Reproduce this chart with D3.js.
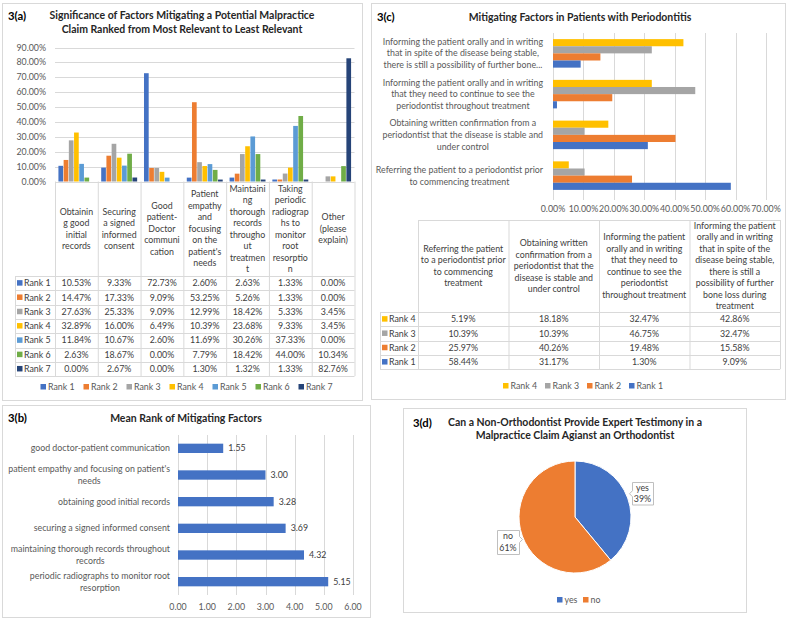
<!DOCTYPE html>
<html><head><meta charset="utf-8">
<script src="https://cdn.jsdelivr.net/npm/d3@7"></script>
<style>
body{margin:0;background:#fff;}
svg{display:block;font-family:Lato,"Open Sans",sans-serif;}
</style></head><body>
<svg id="c" width="791" height="622"></svg>
<script>
// ---------- DATA ----------
// 3(a)
const factorsA = [
  ["Obtainin","g good","initial","records"],
  ["Securing","a signed","informed","consent"],
  ["Good","patient-","Doctor","communi","cation"],
  ["Patient","empathy","and","focusing","on the","patient's","needs"],
  ["Maintaini","ng","thorough","records","througho","ut","treatmen","t"],
  ["Taking","periodic","radiograp","hs to","monitor","root","resorptio","n"],
  ["Other","(please","explain)"]
];
const ranksA = ["Rank 1","Rank 2","Rank 3","Rank 4","Rank 5","Rank 6","Rank 7"];
const rank1A = [10.53, 9.33, 72.73, 2.60, 2.63, 1.33, 0.00];
const rank2A = [14.47, 17.33, 9.09, 53.25, 5.26, 1.33, 0.00];
const rank3A = [27.63, 25.33, 9.09, 12.99, 18.42, 5.33, 3.45];
const rank4A = [32.89, 16.00, 6.49, 10.39, 23.68, 9.33, 3.45];
const rank5A = [11.84, 10.67, 2.60, 11.69, 30.26, 37.33, 0.00];
const rank6A = [2.63, 18.67, 0.00, 7.79, 18.42, 44.00, 10.34];
const rank7A = [0.00, 2.67, 0.00, 1.30, 1.32, 1.33, 82.76];
const ticksA = [0,10,20,30,40,50,60,70,80,90];

// 3(b)
const factorsB = [
  ["good doctor-patient communication"],
  ["patient empathy and focusing on patient's","needs"],
  ["obtaining good initial records"],
  ["securing a signed informed consent"],
  ["maintaining thorough records throughout","records"],
  ["periodic radiographs to monitor root","resorption"]
];
const meanRankB = [1.55, 3.00, 3.28, 3.69, 4.32, 5.15];
const ticksB = [0,1,2,3,4,5,6];

// 3(c)
const factorsC_axis = [
  ["Referring the patient to a periodontist prior","to commencing treatment"],
  ["Obtaining written confirmation from a","periodontist that the disease is stable and","under control"],
  ["Informing the patient orally and in writing","that they need to continue to see the","periodontist throughout treatment"],
  ["Informing the patient orally and in writing","that in spite of the disease being stable,","there is still a possibility of further bone..."]
];
const factorsC_table = [
  ["Referring the patient","to a periodontist prior","to commencing","treatment"],
  ["Obtaining written","confirmation from a","periodontist that the","disease is stable and","under control"],
  ["Informing the patient","orally and in writing","that they need to","continue to see the","periodontist","throughout treatment"],
  ["Informing the patient","orally and in writing","that in spite of the","disease being stable,","there is still a","possibility of further","bone loss during","treatment"]
];
const ranksC = ["Rank 4","Rank 3","Rank 2","Rank 1"];
const rank4C = [5.19, 18.18, 32.47, 42.86];
const rank3C = [10.39, 10.39, 46.75, 32.47];
const rank2C = [25.97, 40.26, 19.48, 15.58];
const rank1C = [58.44, 31.17, 1.30, 9.09];
const ticksC = [0,10,20,30,40,50,60,70];

// 3(d)
const answersD = ["yes","no"];
const sharesD = [39, 61];

// ---------- SETUP ----------
const svg = d3.select("#c");
svg.append("rect").attr("width",791).attr("height",622).attr("fill","#fff");
const GRID = "#d9d9d9", LBL = "#595959", TXT = "#404040", TTL = "#262626";
const colorsA = ["#4472C4","#ED7D31","#A5A5A5","#FFC000","#5B9BD5","#70AD47","#264478"];
const colorRank = {"Rank 1":"#4472C4","Rank 2":"#ED7D31","Rank 3":"#A5A5A5","Rank 4":"#FFC000"};

function fit(sample, target, weight){
  const t = svg.append("text").attr("font-size",100).attr("font-weight",weight).text(sample);
  const w = t.node().getComputedTextLength(); t.remove();
  return 100*target/w;
}
const FS = (fit("good doctor-patient communication",139,"normal") + fit("Informing the patient orally and in writing",161,"normal"))/2;
const TS = fit("Significance of Factors Mitigating a Potential Malpractice",265,"bold");

function panel(x,y,w,h){
  svg.append("rect").attr("x",x+0.5).attr("y",y+0.5).attr("width",w).attr("height",h)
    .attr("fill","#fff").attr("stroke",GRID);
}
function txt(x,y,s,opt={}){
  return svg.append("text").attr("x",x).attr("y",y).text(s)
    .attr("font-size",opt.size||FS).attr("fill",opt.fill||TXT)
    .attr("font-weight",opt.weight||"normal").attr("text-anchor",opt.anchor||"start");
}
function block(lines, cx, cy, lh, opt={}){
  const size = opt.size||FS;
  const t = svg.append("text").attr("font-size",size).attr("fill",opt.fill||TXT)
    .attr("text-anchor","middle").attr("font-weight",opt.weight||"normal");
  lines.forEach((s,i)=>t.append("tspan").attr("x",cx)
    .attr("y",cy+(i-(lines.length-1)/2)*lh+size*0.35).text(s));
  if(opt.right!==undefined){
    const w = d3.max(t.selectAll("tspan").nodes(), n=>n.getComputedTextLength());
    t.selectAll("tspan").attr("x", opt.right - w/2);
  }
  return t;
}
function hline(x1,x2,y,c=GRID){svg.append("line").attr("x1",x1).attr("x2",x2).attr("y1",y).attr("y2",y).attr("stroke",c);}
function vline(x,y1,y2,c=GRID){svg.append("line").attr("x1",x).attr("x2",x).attr("y1",y1).attr("y2",y2).attr("stroke",c);}
function legend(items, colors, x0, step, y){
  items.forEach((s,i)=>{
    svg.append("rect").attr("x",x0+i*step).attr("y",y-3).attr("width",5.5).attr("height",5.5).attr("fill",colors[i]);
    txt(x0+i*step+7.5,y+FS*0.35,s,{fill:LBL});
  });
}

panel(2,3,360,397);
panel(371,3,414,396);
panel(2,405,368,212);
panel(403,408,343,204);

// ---------- 3(a) ----------
{
  const valuesA = [rank1A,rank2A,rank3A,rank4A,rank5A,rank6A,rank7A];
  txt(8,20,"3(a)",{size:TS*1.08,weight:"bold",fill:"#000"});
  block(["Significance of Factors Mitigating a Potential Malpractice","Claim Ranked from Most Relevant to Least Relevant"],182,22.5,14,{size:TS,weight:"bold",fill:TTL});
  const y = d3.scaleLinear().domain([0,90]).range([181.5,47.5]);
  const x0 = d3.scaleBand().domain(d3.range(factorsA.length)).range([55,354.5]).paddingInner(0.16).paddingOuter(0.08);
  const x1 = d3.scaleBand().domain(ranksA).range([0,x0.bandwidth()]).paddingInner(0.1);
  ticksA.forEach(t=>{
    hline(55,354.5,Math.round(y(t))+0.5);
    txt(46,y(t)+FS*0.35,d3.format(".2f")(t)+"%",{anchor:"end",fill:LBL});
  });
  ranksA.forEach((r,ri)=>{
    svg.append("g").selectAll("rect").data(valuesA[ri]).join("rect")
      .attr("x",(d,i)=>x0(i)+x1(r)).attr("width",x1.bandwidth())
      .attr("y",d=>y(d)).attr("height",d=>y(0)-y(d)).attr("fill",colorsA[ri]);
  });
  // data table
  const step = x0.step(), left = 55, right = 55+step*factorsA.length;
  const top = y(0), hdrBot = 276, rowH = 14.3, labL = 15;
  for(let i=0;i<=factorsA.length;i++) vline(left+i*step+0.5, top, hdrBot+rowH*ranksA.length);
  vline(labL+0.5, hdrBot, hdrBot+rowH*ranksA.length);
  for(let j=0;j<=ranksA.length;j++) hline(labL, right, Math.round(hdrBot+j*rowH)+0.5);
  factorsA.forEach((f,i)=>block(f, left+step*(i+0.5), (top+hdrBot)/2, 11.5));
  ranksA.forEach((r,ri)=>{
    const cy = hdrBot+rowH*(ri+0.5);
    svg.append("rect").attr("x",labL+2).attr("y",cy-3).attr("width",5.5).attr("height",5.5).attr("fill",colorsA[ri]);
    txt(labL+9,cy+FS*0.35,r);
    valuesA[ri].forEach((v,i)=>txt(left+step*(i+0.5),cy+FS*0.35,v.toFixed(2)+"%",{anchor:"middle"}));
  });
  legend(ranksA, colorsA, 40.5, 43, 387);
}

// ---------- 3(c) ----------
{
  const valuesC = {"Rank 4":rank4C,"Rank 3":rank3C,"Rank 2":rank2C,"Rank 1":rank1C};
  txt(377,21,"3(c)",{size:TS*1.08,weight:"bold",fill:"#000"});
  txt(580,21,"Mitigating Factors in Patients with Periodontitis",{size:TS,weight:"bold",fill:TTL,anchor:"middle"});
  const x = d3.scaleLinear().domain([0,70]).range([553,766]);
  const y0 = d3.scaleBand().domain(d3.range(factorsC_axis.length).reverse()).range([33,196]).paddingInner(0.3).paddingOuter(0.15);
  const y1 = d3.scaleBand().domain(ranksC).range([0,y0.bandwidth()]);
  ticksC.forEach(t=>{
    vline(Math.round(x(t))+0.5,33,200);
    txt(x(t),212,d3.format(".2f")(t)+"%",{anchor:"middle",fill:LBL});
  });
  ranksC.forEach(r=>{
    svg.append("g").selectAll("rect").data(valuesC[r]).join("rect")
      .attr("y",(d,i)=>y0(i)+y1(r)).attr("height",y1.bandwidth())
      .attr("x",x(0)).attr("width",d=>x(d)-x(0)).attr("fill",colorRank[r]);
  });
  factorsC_axis.forEach((f,i)=>block(f,0,y0(i)+y0.bandwidth()/2,11.6,{right:543,fill:LBL}));
  // table
  const left = 418, colW = 90.5, n = factorsC_table.length, right = left+colW*n;
  const top = 220, hdrBot = 312, rowH = 14.3, labL = 380;
  for(let i=0;i<=n;i++) vline(left+i*colW+0.5, top, hdrBot+rowH*ranksC.length);
  vline(labL+0.5, hdrBot, hdrBot+rowH*ranksC.length);
  hline(left, right, top+0.5);
  for(let j=0;j<=ranksC.length;j++) hline(labL, right, Math.round(hdrBot+j*rowH)+0.5);
  factorsC_table.forEach((f,i)=>block(f,left+colW*(i+0.5),(top+hdrBot)/2,11.5));
  ranksC.forEach((r,ri)=>{
    const cy = hdrBot+rowH*(ri+0.5);
    svg.append("rect").attr("x",labL+2).attr("y",cy-3).attr("width",5.5).attr("height",5.5).attr("fill",colorRank[r]);
    txt(labL+9,cy+FS*0.35,r);
    valuesC[r].forEach((v,i)=>txt(left+colW*(i+0.5),cy+FS*0.35,v.toFixed(2)+"%",{anchor:"middle"}));
  });
  legend(ranksC, ranksC.map(r=>colorRank[r]), 503, 42, 386);
}

// ---------- 3(b) ----------
{
  txt(8,422,"3(b)",{size:TS*1.08,weight:"bold",fill:"#000"});
  txt(186,422,"Mean Rank of Mitigating Factors",{size:TS,weight:"bold",fill:TTL,anchor:"middle"});
  const x = d3.scaleLinear().domain([0,6]).range([178,353]);
  const y = d3.scaleBand().domain(d3.range(factorsB.length)).range([435,595]).paddingInner(0.65).paddingOuter(0.325);
  ticksB.forEach(t=>{
    vline(Math.round(x(t))+0.5,435,595);
    txt(x(t),607+FS*0.35,d3.format(".2f")(t),{anchor:"middle",fill:LBL});
  });
  svg.append("g").selectAll("rect").data(meanRankB).join("rect")
    .attr("x",x(0)).attr("y",(d,i)=>y(i)).attr("height",y.bandwidth())
    .attr("width",d=>x(d)-x(0)).attr("fill","#4472C4");
  meanRankB.forEach((v,i)=>txt(x(v)+5,y(i)+y.bandwidth()/2+FS*0.35,v.toFixed(2),{fill:TXT}));
  factorsB.forEach((f,i)=>block(f,0,y(i)+y.bandwidth()/2,11.6,{right:170,fill:LBL}));
}

// ---------- 3(d) ----------
{
  txt(413,427,"3(d)",{size:TS*1.08,weight:"bold",fill:"#000"});
  block(["Can a Non-Orthodontist Provide Expert Testimony in a","Malpractice Claim Agianst an Orthodontist"],575,428.5,13,{size:TS,weight:"bold",fill:TTL});
  const colorsD = ["#4472C4","#ED7D31"];
  const cx = 575, cy = 517, r = 56;
  const arcs = d3.pie().sort(null).value(d=>d)(sharesD);
  const arc = d3.arc().innerRadius(0).outerRadius(r);
  svg.append("g").attr("transform",`translate(${cx},${cy})`).selectAll("path").data(arcs).join("path")
    .attr("d",arc).attr("fill",(d,i)=>colorsD[i]).attr("stroke","#fff").attr("stroke-width",1);
  // callout labels
  const boxes = [{x:632,y:482,w:21,h:22.5,side:"left"},{x:497,y:530,w:22,h:24,side:"right"}];
  arcs.forEach((a,i)=>{
    const b = boxes[i];
    let p;
    if(b.side==="left"){
      p = `M${b.x},${b.y}h${b.w}v${b.h}h${-b.w}v${-b.h/2+3}l-3,-3l3,-3z`;
    } else {
      p = `M${b.x},${b.y}h${b.w}v${b.h/2-6}l3,3l-3,3v${b.h/2}h${-b.w}z`;
    }
    svg.append("path").attr("d",p).attr("transform","translate(0.5,0.5)").attr("fill","#fff").attr("stroke","#bfbfbf");
    block([answersD[i], Math.round(a.value)+"%"], b.x+b.w/2, b.y+b.h/2, 11.5, {fill:TXT});
  });
  legend(answersD, colorsD, 557, 26, 600);
}
</script>
</body></html>
